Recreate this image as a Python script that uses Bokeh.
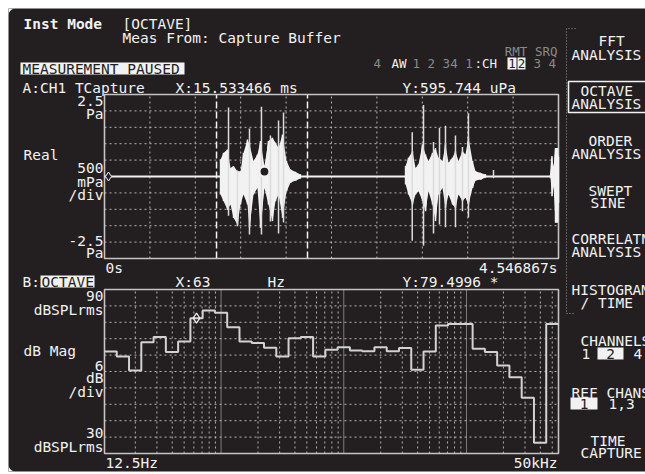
import numpy as np
from bokeh.plotting import figure
from bokeh.models import Range1d, LogScale
from bokeh.core.properties import value
from bokeh.embed import file_html
from bokeh.resources import INLINE

T_END = 4.546867                      # capture length, s
marker_times = [1.122, 2.033]         # dashed capture markers, s
cursor_t, cursor_pa = 1.602, 0.15     # trace A marker
ref_marker_t = 0.04

# time record, burst envelopes (s, Pa)
b1_t = [1.162, 1.192, 1.232, 1.262, 1.292, 1.332, 1.362, 1.392, 1.432, 1.452, 1.492, 1.532,
        1.562, 1.602, 1.642, 1.682, 1.713, 1.743, 1.783, 1.823, 1.863, 1.913, 1.963]
b1_hi = [0.52, 0.72, 0.82, 0.26, 0.32, 0.16, 0.16, 0.72, 1.13, 0.98, 0.47, 0.67,
         1.08, 0.32, 1.08, 1.18, 1.03, 0.87, 1.28, 0.47, 0.21, 0.14, 0.06]
b1_lo = [-0.55, -0.75, -1.01, -0.85, -1.26, -1.46, -0.85, -0.55, -0.85, -1.56, -0.55, -0.35,
         -1.56, -0.35, -0.85, -1.36, -0.75, -0.55, -1.26, -0.45, -0.19, -0.12, -0.06]

b2_t = [3.015, 3.045, 3.085, 3.115, 3.145, 3.185, 3.215, 3.245, 3.285, 3.315, 3.345, 3.385,
        3.415, 3.445, 3.485, 3.515, 3.545, 3.585, 3.615, 3.645, 3.686, 3.716, 3.766, 3.816]
b2_hi = [0.32, 0.57, 0.77, 0.26, 0.37, 0.98, 0.67, 0.47, 0.72, 0.87, 0.57, 0.47,
         0.98, 0.42, 0.57, 0.77, 0.47, 0.77, 0.67, 1.18, 0.47, 0.16, 0.11, 0.06]
b2_lo = [-0.24, -0.55, -0.85, -0.55, -0.45, -0.75, -1.06, -0.45, -0.85, -1.36, -0.55, -0.35,
         -0.96, -0.55, -0.85, -0.96, -0.55, -0.75, -0.65, -0.85, -0.35, -0.12, -0.09, -0.04]

b3_t = [4.467, 4.482, 4.497, 4.517, 4.537, 4.546867]
b3_hi = [0.05, 0.62, 0.30, 0.87, 0.87, 0.60]
b3_lo = [-0.05, -0.60, -0.30, -1.41, -1.41, -0.80]

quiet_t = [0.0, 4.546867]
quiet_pa = [0.0, 0.0]

spike_t = [1.242, 1.332, 1.452, 1.572, 1.662, 1.743, 1.793,
           3.082, 3.195, 3.295, 3.355, 3.415, 3.515, 3.585, 3.645, 3.896]
spike_hi = [2.10, 0.18, 1.46, 2.13, 1.25, 1.71, 1.95,
            1.35, 2.18, 1.05, 1.48, 1.55, 1.25, 0.90, 1.93, 0.20]
spike_lo = [-1.20, -1.52, -1.77, -1.77, -1.37, -1.74, -1.40,
            -1.96, -2.11, -1.74, -1.46, -1.55, -1.55, -1.06, -1.25, -0.05]

# 1/3-octave spectrum (nominal band centres, Hz / level dBSPLrms)
band_hz = [12.5, 16, 20, 25, 31.5, 40, 50, 63, 80, 100, 125, 160, 200, 250, 315, 400, 500, 630,
           800, 1000, 1250, 1600, 2000, 2500, 3150, 4000, 5000, 6300, 8000, 10000, 12500, 16000,
           20000, 25000, 31500, 40000, 50000]
band_db = [67.3, 65.5, 60.4, 70.7, 72.6, 67.1, 71.0, 79.5, 82.3, 81.5, 76.2, 71.0, 70.4, 68.7,
           65.5, 72.2, 72.6, 65.5, 68.0, 68.9, 67.7, 67.4, 68.9, 67.4, 68.6, 60.6, 67.3, 76.8,
           77.4, 77.4, 68.3, 67.1, 62.2, 57.9, 50.4, 33.9, 77.4]
cursor_b_hz = 63

# ---------------- styling / layout ----------------
BG = "#231f20"
FG = "#f2f2f2"
GRID = "#b4b4b4"
FRAME = "#c4c4c4"
DIM = "#8a8a8a"
FONT = "DejaVu Sans Mono"
FS = "14.5px"
FS_SMALL = "12.5px"

PX0, PX1 = 8, 645          # page x covered by the dark screen
PY0, PY1 = 8, 471          # page y covered by the dark screen
FX0, FX1 = 104, 558        # plot frames, page x
AY0, AY1 = 94, 258         # trace A frame, page y (top, bottom)
BY0, BY1 = 289, 453        # trace B frame

def lin(q, q0, q1, v0, v1):
    return v0 + (q - q0) * (v1 - v0) / (q1 - q0)

# band edges (exact base-10 centres)
band_n = [round(10 * np.log10(f)) for f in band_hz]
edges = [10 ** ((n - 0.5) / 10) for n in band_n] + [10 ** ((band_n[-1] + 0.5) / 10)]
f_lo, f_hi = edges[0], edges[-1]
lf0, lf1 = np.log10(f_lo), np.log10(f_hi)

p = figure(width=645, height=474, x_range=Range1d(PX0, PX1), y_range=Range1d(PY1, PY0),
           min_border_left=8, min_border_top=8, min_border_right=0, min_border_bottom=3,
           toolbar_location=None, x_axis_location=None, y_axis_location=None,
           output_backend="svg", background_fill_color=BG, border_fill_color="white",
           outline_line_color=None, title=None)
p.xgrid.grid_line_color = None
p.ygrid.grid_line_color = None

p.extra_x_ranges = {
    "t": Range1d(lin(PX0, FX0, FX1, 0, T_END), lin(PX1, FX0, FX1, 0, T_END)),
    "f": Range1d(10 ** lin(PX0, FX0, FX1, lf0, lf1), 10 ** lin(PX1, FX0, FX1, lf0, lf1)),
}
p.extra_x_scales = {"f": LogScale()}
p.extra_y_ranges = {
    "pa": Range1d(lin(PY1, AY0, AY1, 2.5, -2.5), lin(PY0, AY0, AY1, 2.5, -2.5)),
    "db": Range1d(lin(PY1, BY0, BY1, 90, 30), lin(PY0, BY0, BY1, 90, 30)),
}
A = dict(x_range_name="t", y_range_name="pa")
B = dict(x_range_name="f", y_range_name="db")

# rounded left corners of the screen
r = 7
ang = np.linspace(0, np.pi / 2, 12)
cx, cy = PX0 + r, PY0 + r
p.patch(list(cx - r * np.cos(ang)) + [PX0], list(cy - r * np.sin(ang)) + [PY0],
        fill_color="white", line_color=None)
cy2 = PY1 - r
p.patch(list(cx - r * np.cos(ang)) + [PX0], list(cy2 + r * np.sin(ang)) + [PY1],
        fill_color="white", line_color=None)

# ---------------- trace A : time record ----------------
hl = [-2.0, -1.5, -1.0, -0.5, 0.0, 0.5, 1.0, 1.5, 2.0]
p.segment(x0=[0] * len(hl), x1=[T_END] * len(hl), y0=hl, y1=hl,
          line_color=GRID, line_width=1, line_dash="2 3", **A)
vl = [T_END * k / 10 for k in range(1, 10)]
p.segment(x0=vl, x1=vl, y0=[-2.5] * len(vl), y1=[2.5] * len(vl),
          line_color=GRID, line_width=1, line_dash="2 3", **A)
p.segment(x0=marker_times, x1=marker_times, y0=[-2.5] * 2, y1=[2.5] * 2,
          line_color=FG, line_width=1.5, line_dash="7 3", **A)
p.quad(left=[0], right=[T_END], bottom=[-2.5], top=[2.5], fill_color=None,
       line_color=FRAME, line_width=1.6, **A)

p.line(quiet_t, quiet_pa, line_color=FG, line_width=2, **A)
for bt, bh, bl in ((b1_t, b1_hi, b1_lo), (b2_t, b2_hi, b2_lo), (b3_t, b3_hi, b3_lo)):
    p.varea(x=bt, y1=bl, y2=bh, fill_color=FG, **A)
    zt, zv = [], []
    for t, h, l in zip(bt, bh, bl):
        zt += [t, t]
        zv += [h, l]
    p.line(zt, zv, line_color=FG, line_width=1.5, **A)
p.segment(x0=spike_t, x1=spike_t, y0=spike_lo, y1=spike_hi, line_color="#dcdcdc",
          line_width=1.5, **A)
p.scatter([cursor_t], [cursor_pa], marker="circle", size=10, fill_color=BG,
          line_color=FG, line_width=2.2, **A)
p.scatter([ref_marker_t], [0.0], marker="diamond", size=9, fill_color=BG,
          line_color=FG, line_width=1, **A)

# ---------------- trace B : octave spectrum ----------------
dl = [36, 42, 48, 54, 60, 66, 72, 78, 84]
p.segment(x0=[f_lo] * len(dl), x1=[f_hi] * len(dl), y0=dl, y1=dl,
          line_color=GRID, line_width=1, line_dash="2 3", **B)
minor_f = [m * 10 ** d for d in range(1, 5) for m in range(2, 10) if f_lo < m * 10 ** d < f_hi]
decade_f = [10 ** d for d in range(1, 6) if f_lo < 10 ** d < f_hi]
p.segment(x0=minor_f, x1=minor_f, y0=[30] * len(minor_f), y1=[90] * len(minor_f),
          line_color=GRID, line_width=1, line_dash="2 3", **B)
p.segment(x0=decade_f, x1=decade_f, y0=[30] * len(decade_f), y1=[90] * len(decade_f),
          line_color="#d8d8d8", line_width=1, line_dash="1 1", **B)
p.quad(left=[f_lo], right=[f_hi], bottom=[30], top=[90], fill_color=None,
       line_color=FRAME, line_width=1.6, **B)
p.step(x=edges, y=band_db + [band_db[-1]], mode="after", line_color="#d2d2d2",
       line_width=2, **B)
ci = band_hz.index(cursor_b_hz)
p.scatter([10 ** (band_n[ci] / 10)], [band_db[ci]], marker="diamond", size=10,
          fill_color=None, line_color=FG, line_width=1.2, **B)

# ---------------- screen texts ----------------
def txt(x, y, s, color=FG, align="left", size=FS, bold=False):
    p.text(x=[x], y=[y], text=[s], text_color=color, text_font=value(FONT),
           text_font_size=value(size), text_align=align, text_baseline="middle",
           text_font_style="bold" if bold else "normal")

def inv_box(x0, x1, y0, y1):
    p.quad(left=[x0], right=[x1], top=[y0], bottom=[y1], fill_color=FG, line_color=None)

txt(23, 23, "Inst Mode", bold=True)
txt(122, 23, "[OCTAVE]")
txt(122, 37, "Meas From: Capture Buffer")
inv_box(20, 184, 62, 74)
txt(22, 68, "MEASUREMENT PAUSED", color=BG)
txt(557, 51, "RMT SRQ", color=DIM, align="right", size=FS_SMALL)
# status row
txt(373, 63, "4", color=DIM, size=FS_SMALL)
txt(391, 63, "AW", size=FS_SMALL)
txt(412, 63, "1 2 34 1", color=DIM, size=FS_SMALL)
txt(474, 63, ":CH", size=FS_SMALL)
inv_box(507, 516, 57, 69)
inv_box(517, 525, 57, 69)
txt(511.5, 63, "1", color=BG, align="center", size=FS_SMALL)
txt(521, 63, "2", color=BG, align="center", size=FS_SMALL)
txt(533, 63, "3 4", color=DIM, size=FS_SMALL)

txt(22, 87, "A:CH1 TCapture")
txt(175, 87, "X:15.533466 ms")
txt(402, 87, "Y:595.744 uPa")

txt(103, 100, "2.5", align="right")
txt(103, 113, "Pa", align="right")
txt(23, 154, "Real")
txt(103, 167, "500", align="right")
txt(103, 181, "mPa", align="right")
txt(103, 194, "/div", align="right")
txt(103, 240, "-2.5", align="right")
txt(103, 252, "Pa", align="right")
txt(105, 267, "0s")
txt(557, 267, "4.546867s", align="right")

txt(22, 281, "B:")
inv_box(40, 94, 275, 287)
txt(41, 281, "OCTAVE", color=BG)
txt(175, 281, "X:63")
txt(267, 281, "Hz")
txt(402, 281, "Y:79.4996 *")
txt(103, 295, "90", align="right")
txt(103, 309, "dBSPLrms", align="right")
txt(23, 350, "dB Mag")
txt(103, 365, "6", align="right")
txt(103, 377, "dB", align="right")
txt(103, 391, "/div", align="right")
txt(103, 432, "30", align="right")
txt(103, 446, "dBSPLrms", align="right")
txt(105, 462, "12.5Hz")
txt(557, 462, "50kHz", align="right")

# softkey menu
p.line(x=[575, 566, 566, 575], y=[28, 28, 313, 313], line_color="#9a9a9a",
       line_width=1, line_dash="1 2")
p.quad(left=[568], right=[652], top=[81], bottom=[112], fill_color=None,
       line_color=FG, line_width=1.6)
for x, y, s in [(598, 40, "FFT"), (571, 54, "ANALYSIS"),
                (580, 90, "OCTAVE"), (571, 103, "ANALYSIS"),
                (588, 140, "ORDER"), (571, 153, "ANALYSIS"),
                (588, 190, "SWEPT"), (590, 202, "SINE"),
                (571, 238, "CORRELATN"), (571, 251, "ANALYSIS"),
                (571, 289, "HISTOGRAM"), (580, 302, "/ TIME"),
                (580, 340, "CHANNELS"), (581, 353, "1"), (633, 353, "4"),
                (571, 392, "REF CHANS"), (608, 403, "1,3"),
                (590, 440, "TIME"), (580, 452, "CAPTURE")]:
    txt(x, y, s)
inv_box(597, 623, 347, 359)
txt(610, 353, "2", color=BG, align="center")
inv_box(570, 597, 397, 409)
txt(583.5, 403, "1", color=BG, align="center")

open("out.html", "w").write(file_html(p, INLINE))
